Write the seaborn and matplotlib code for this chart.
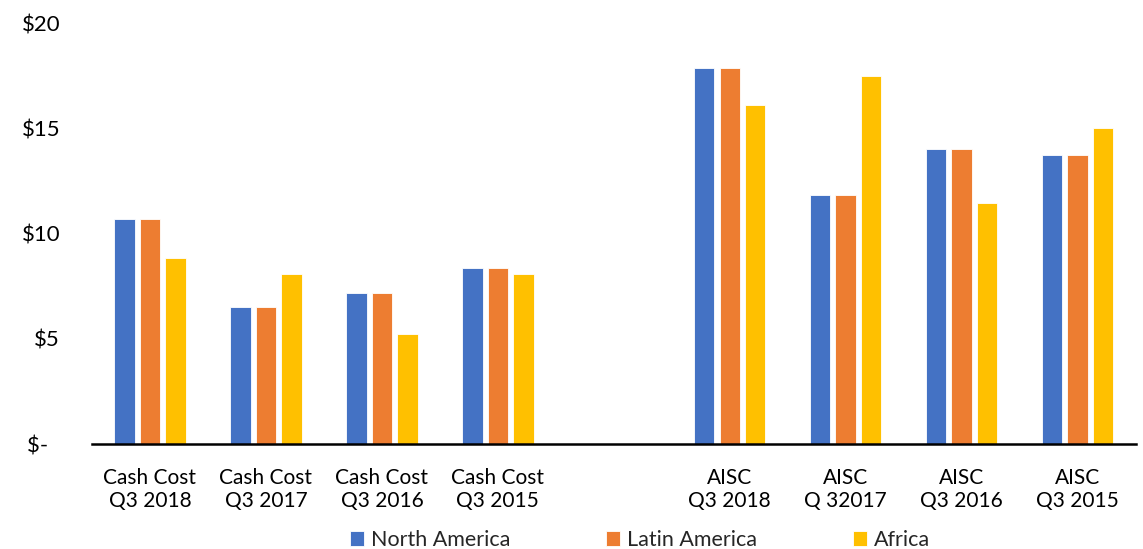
import numpy as np
import pandas as pd
import matplotlib
matplotlib.use("Agg")
import matplotlib.pyplot as plt
import seaborn as sns

# Category labels (blank slot separates the two metric groups)
categories = [
    "Cash Cost\nQ3 2018", "Cash Cost\nQ3 2017", "Cash Cost\nQ3 2016", "Cash Cost\nQ3 2015",
    " ",
    "AISC\nQ3 2018", "AISC\nQ 32017", "AISC\nQ3 2016", "AISC\nQ3 2015",
]
regions = ["North America", "Latin America", "Africa"]

north_america = [10.68, 6.50, 7.17, 8.35, np.nan, 17.88, 11.82, 14.00, 13.73]
latin_america = [10.68, 6.50, 7.17, 8.35, np.nan, 17.88, 11.82, 14.00, 13.73]
africa = [8.83, 8.07, 5.22, 8.07, np.nan, 16.09, 17.48, 11.44, 15.00]

y_ticks = [0, 5, 10, 15, 20]
y_tick_labels = ["$-  ", "$5", "$10", "$15", "$20"]

colors = ["#4472C4", "#ED7D31", "#FFC000"]

rows = []
for region, vals in zip(regions, [north_america, latin_america, africa]):
    for cat, v in zip(categories, vals):
        rows.append({"category": cat, "region": region, "value": v})
df = pd.DataFrame(rows)

sns.set_theme(style="white")
plt.rcParams["font.family"] = ["Lato", "DejaVu Sans"]

fig = plt.figure(figsize=(11.43, 5.49), dpi=100)
ax = fig.add_axes([0.0805, 0.191, 0.913, 0.767])

sns.barplot(
    data=df, x="category", y="value", hue="region",
    order=categories, hue_order=regions, palette=colors,
    width=0.66, gap=0.2, errorbar=None, ax=ax,
    edgecolor="white", linewidth=0.6, saturation=1,
)

ax.set_xlim(-0.5, 8.5)
ax.set_ylim(0, 20)
ax.set_yticks(y_ticks)
ax.set_yticklabels(y_tick_labels)
ax.set_xlabel("")
ax.set_ylabel("")
for s in ["top", "right", "left"]:
    ax.spines[s].set_visible(False)
ax.spines["bottom"].set_color("black")
ax.spines["bottom"].set_linewidth(1.8)
ax.tick_params(axis="y", length=0, pad=23, labelsize=16, labelcolor="black")
ax.tick_params(axis="x", length=0, pad=17, labelsize=15, labelcolor="black")
for lbl in ax.get_xticklabels():
    lbl.set_linespacing(1.2)

handles, labels = ax.get_legend_handles_labels()
ax.legend(
    handles, labels, loc="center", bbox_to_anchor=(0.525, -0.228),
    ncol=3, frameon=False, fontsize=15.5, handlelength=0.65, handleheight=0.65,
    handletextpad=0.33, columnspacing=4.45, borderaxespad=0,
)

fig.savefig("out.png", dpi=100)
